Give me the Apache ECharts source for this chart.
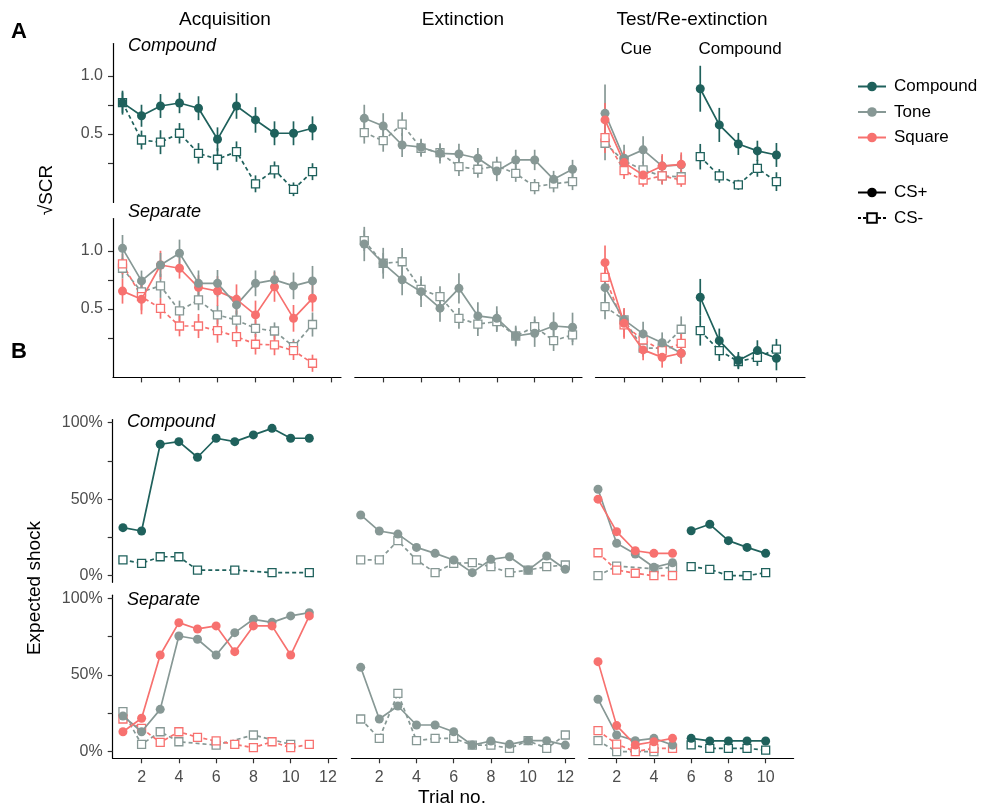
<!DOCTYPE html>
<html>
<head>
<meta charset="utf-8">
<script src="https://cdn.jsdelivr.net/npm/echarts@6/dist/echarts.min.js"></script>
<style>html,body{margin:0;padding:0;background:#fff}#c{width:997px;height:812px}</style>
</head>
<body>
<div id="c"></div>
<script>
// ---------------- DATA ----------------
const acqTrials = [1,2,3,4,5,6,7,8,9,10,11];
const extTrials = [1,2,3,4,5,6,7,8,9,10,11,12];
const cueTrials = [1,2,3,4,5];
const cmpTrials = [6,7,8,9,10];
const xTicks12 = [2,4,6,8,10,12];
const xTicks10 = [2,4,6,8,10];
const scrTicks = [0.25,0.5,0.75,1.0];
const scrLabels = [0.5,1.0];
const pctTicks = [0,0.25,0.5,0.75,1.0];
const pctLabels = [0,0.5,1.0];

// ----- A: sqrt SCR, Compound group -----
const aAcqCmpCSp   = [0.770,0.657,0.741,0.767,0.722,0.454,0.741,0.621,0.506,0.506,0.549];
const aAcqCmpCSpSE = [0.103,0.095,0.103,0.088,0.103,0.103,0.110,0.110,0.103,0.103,0.103];
const aAcqCmpCSm   = [0.770,0.448,0.429,0.506,0.333,0.282,0.348,0.070,0.190,0.023,0.175];
const aAcqCmpCSmSE = [0.088,0.081,0.103,0.088,0.088,0.095,0.088,0.073,0.073,0.059,0.073];
const aExtCmpCSp   = [0.635,0.569,0.405,0.386,0.333,0.327,0.291,0.181,0.276,0.276,0.109,0.196];
const aExtCmpCSpSE = [0.117,0.110,0.103,0.073,0.088,0.088,0.088,0.088,0.088,0.088,0.073,0.081];
const aExtCmpCSm   = [0.512,0.442,0.585,0.377,0.339,0.218,0.196,0.223,0.160,0.046,0.070,0.089];
const aExtCmpCSmSE = [0.095,0.095,0.103,0.073,0.073,0.081,0.073,0.081,0.073,0.066,0.073,0.073];
const aTestCmpToneCSp     = [0.678,0.291,0.363,0.223,0.234];
const aTestCmpToneCSpSE   = [0.249,0.117,0.117,0.088,0.088];
const aTestCmpSquareCSp   = [0.621,0.253,0.146,0.223,0.238];
const aTestCmpSquareCSpSE = [0.147,0.103,0.073,0.103,0.103];
const aTestCmpToneCSm     = [0.420,0.267,0.190,0.138,0.131];
const aTestCmpToneCSmSE   = [0.147,0.073,0.073,0.073,0.059];
const aTestCmpSquareCSm   = [0.468,0.184,0.103,0.138,0.103];
const aTestCmpSquareCSmSE = [0.132,0.073,0.059,0.073,0.059];
const aTestCmpCmpCSp   = [0.890,0.578,0.414,0.354,0.319];
const aTestCmpCmpCSpSE = [0.198,0.147,0.095,0.088,0.103];
const aTestCmpCmpCSm   = [0.304,0.138,0.061,0.204,0.089];
const aTestCmpCmpCSmSE = [0.110,0.059,0.044,0.073,0.081];

// ----- A: sqrt SCR, Separate group -----
const aAcqSepToneCSp     = [1.023,0.742,0.879,0.980,0.721,0.721,0.535,0.721,0.751,0.699,0.742];
const aAcqSepToneCSpSE   = [0.115,0.089,0.104,0.118,0.111,0.115,0.089,0.111,0.081,0.115,0.129];
const aAcqSepSquareCSp   = [0.654,0.583,0.879,0.851,0.687,0.654,0.583,0.449,0.691,0.419,0.592];
const aAcqSepSquareCSpSE = [0.108,0.129,0.123,0.089,0.104,0.129,0.129,0.123,0.129,0.115,0.115];
const aAcqSepToneCSm     = [0.851,0.647,0.699,0.483,0.578,0.449,0.404,0.333,0.310,0.175,0.366];
const aAcqSepToneCSmSE   = [0.089,0.089,0.104,0.089,0.089,0.081,0.081,0.074,0.074,0.067,0.104];
const aAcqSepSquareCSm   = [0.888,0.606,0.505,0.353,0.353,0.313,0.262,0.196,0.190,0.141,0.032];
const aAcqSepSquareCSmSE = [0.089,0.118,0.089,0.089,0.104,0.104,0.089,0.089,0.089,0.081,0.074];
const aExtSepCSp   = [1.060,0.894,0.751,0.649,0.507,0.678,0.440,0.419,0.267,0.291,0.353,0.342];
const aExtSepCSpSE = [0.148,0.133,0.133,0.133,0.118,0.130,0.118,0.104,0.089,0.118,0.118,0.126];
const aExtSepCSm   = [1.089,0.894,0.907,0.669,0.606,0.419,0.370,0.391,0.267,0.347,0.227,0.276];
const aExtSepCSmSE = [0.089,0.089,0.118,0.089,0.089,0.089,0.104,0.089,0.074,0.089,0.089,0.089];
const aTestSepToneCSp     = [0.684,0.406,0.285,0.209,0.118];
const aTestSepToneCSpSE   = [0.118,0.089,0.104,0.089,0.089];
const aTestSepSquareCSp   = [0.899,0.376,0.147,0.083,0.118];
const aTestSepSquareCSpSE = [0.148,0.133,0.089,0.089,0.089];
const aTestSepToneCSm     = [0.520,0.406,0.162,0.162,0.325];
const aTestSepToneCSmSE   = [0.108,0.089,0.074,0.089,0.111];
const aTestSepSquareCSm   = [0.773,0.362,0.233,0.141,0.203];
const aTestSepSquareCSmSE = [0.104,0.104,0.089,0.089,0.089];
const aTestSepCmpCSp   = [0.601,0.227,0.055,0.141,0.075];
const aTestSepCmpCSpSE = [0.158,0.104,0.074,0.089,0.104];
const aTestSepCmpCSm   = [0.313,0.141,0.047,0.083,0.153];
const aTestSepCmpCSmSE = [0.129,0.089,0.059,0.074,0.089];

// ----- B: expected shock, Compound group -----
const bAcqCmpCSp = [0.314,0.292,0.859,0.876,0.774,0.898,0.876,0.920,0.963,0.898,0.898];
const bAcqCmpCSm = [0.103,0.081,0.124,0.124,0.037,null,0.037,null,0.020,null,0.020];
const bExtCmpCSp = [0.397,0.292,0.272,0.185,0.146,0.103,0.020,0.107,0.124,0.037,0.129,0.042];
const bExtCmpCSm = [0.103,0.103,0.229,0.103,0.020,0.081,0.085,0.059,0.020,0.037,0.059,0.070];
const bTestCmpToneCSp   = [0.565,0.212,0.142,0.055,0.085];
const bTestCmpSquareCSp = [0.500,0.288,0.163,0.146,0.146];
const bTestCmpToneCSm   = [0.000,0.063,null,0.045,0.055];
const bTestCmpSquareCSm = [0.150,0.037,0.016,0.000,0.000];
const bTestCmpCmpCSp = [0.294,0.336,0.229,0.185,0.146];
const bTestCmpCmpCSm = [0.059,0.042,0.000,0.000,0.020];

// ----- B: expected shock, Separate group -----
const bAcqSepToneCSp   = [0.233,0.130,0.276,0.754,0.733,0.630,0.776,0.863,0.843,0.885,0.906];
const bAcqSepSquareCSp = [0.130,0.218,0.630,0.841,0.800,0.820,0.652,0.820,0.820,0.630,0.885];
const bAcqSepToneCSm   = [0.261,0.048,0.130,0.065,null,0.043,null,0.109,null,0.048,null];
const bAcqSepSquareCSm = [0.213,0.152,0.061,0.130,0.094,0.070,0.048,0.026,0.065,0.026,0.048];
const bExtSepCSp = [0.550,0.213,0.298,0.174,0.174,0.130,0.043,0.070,0.048,0.072,0.072,0.043];
const bExtSepCSm = [0.213,0.087,0.380,0.072,0.087,0.087,0.043,0.043,0.022,0.072,0.022,0.109];
const bTestSepToneCSp   = [0.342,0.109,0.072,0.087,0.044];
const bTestSepSquareCSp = [0.587,0.170,0.044,0.065,0.087];
const bTestSepToneCSm   = [0.072,0.000,null,0.000,null];
const bTestSepSquareCSm = [0.137,0.050,0.000,0.022,0.022];
const bTestSepCmpCSp = [0.087,0.070,0.070,0.070,0.070];
const bTestSepCmpCSm = [0.044,0.022,0.022,0.022,0.010];

// ---------------- STYLE / LAYOUT ----------------
const C_CMP = '#1f615c', C_TONE = '#879895', C_SQ = '#f7716f';
const FONT = '"Liberation Sans", Arial, Helvetica, sans-serif';
const colA = [[113,341,0.5,12.5],[354.8,582,0.5,12.5],[595.5,805,0.5,11.5]];
const colB = [[112.7,336.7,0.45,12.47],[351.4,574.6,0.5,12.5],[588.7,793.6,0.5,11.5]];
const rowBox = [[43.5,202.4],[218.5,377.4],[419.6,582.3],[595.2,758.3]];
const yRangeA = [-0.09,1.28], yRangeB = [-0.043,1.02];

const grids = [], xAxes = [], yAxes = [];
for (let r = 0; r < 4; r++) {
  for (let c = 0; c < 3; c++) {
    const col = r < 2 ? colA[c] : colB[c];
    const gi = r*3 + c;
    grids.push({left: col[0], top: rowBox[r][0], width: col[1]-col[0], height: rowBox[r][1]-rowBox[r][0]});
    const showX = (r === 1 || r === 3);
    const ticks = c === 2 ? xTicks10 : xTicks12;
    xAxes.push({
      type: 'value', gridIndex: gi, min: col[2], max: col[3], position: 'bottom',
      show: showX,
      axisLine: {show: showX, onZero: false, lineStyle: {color: '#000', width: 1.2}},
      axisTick: {show: showX, length: 5, lineStyle: {color: '#333', width: 1.2}, customValues: ticks},
      axisLabel: {show: r === 3, customValues: ticks, color: '#4d4d4d', fontSize: 16, fontFamily: FONT, margin: 11},
      splitLine: {show: false}
    });
    const isA = r < 2;
    const showY = c === 0;
    yAxes.push({
      type: 'value', gridIndex: gi, position: 'left',
      min: isA ? yRangeA[0] : yRangeB[0], max: isA ? yRangeA[1] : yRangeB[1],
      show: showY,
      axisLine: {show: showY, onZero: false, lineStyle: {color: '#000', width: 1.2}},
      axisTick: {show: showY, length: 5, lineStyle: {color: '#333', width: 1.2}, customValues: isA ? scrTicks : pctTicks},
      axisLabel: {show: showY, customValues: isA ? scrLabels : pctLabels, color: '#4d4d4d', fontSize: 16, fontFamily: FONT, margin: 10,
        formatter: isA ? (v => Number(v).toFixed(1)) : (v => Math.round(v*100) + '%')},
      splitLine: {show: false}
    });
  }
}

const series = [];
function pairs(xs, ys) { return xs.map((x,i) => [x, ys[i]]).filter(d => d[1] !== null && d[1] !== undefined); }
function addLine(gi, xs, ys, color, plus) {
  series.push({
    type: 'line', xAxisIndex: gi, yAxisIndex: gi, data: pairs(xs, ys),
    symbol: plus ? 'circle' : 'rect', symbolSize: plus ? 9 : 8,
    lineStyle: {color: color, width: 1.7, type: plus ? 'solid' : [4,3]},
    itemStyle: plus ? {color: color} : {color: '#fff', borderColor: color, borderWidth: 1.3},
    z: plus ? 4 : 3, animation: false, silent: true
  });
}
function addErr(gi, xs, ys, se, color) {
  const d = xs.map((x,i) => [x, ys[i]-se[i], ys[i]+se[i]]);
  series.push({
    type: 'custom', xAxisIndex: gi, yAxisIndex: gi, data: d, z: 2, animation: false, silent: true,
    encode: {x: 0, y: [1,2]},
    renderItem: function(params, api) {
      const x = api.value(0);
      const p1 = api.coord([x, api.value(1)]), p2 = api.coord([x, api.value(2)]);
      return {type: 'line', shape: {x1: p1[0], y1: p1[1], x2: p2[0], y2: p2[1]}, style: {stroke: color, lineWidth: 1.7}};
    }
  });
}
function addSE(gi, xs, ys, se, color, plus) { addErr(gi, xs, ys, se, color); addLine(gi, xs, ys, color, plus); }

// A compound row (grids 0,1,2)
addSE(0, acqTrials, aAcqCmpCSm, aAcqCmpCSmSE, C_CMP, false);
addSE(0, acqTrials, aAcqCmpCSp, aAcqCmpCSpSE, C_CMP, true);
addSE(1, extTrials, aExtCmpCSm, aExtCmpCSmSE, C_TONE, false);
addSE(1, extTrials, aExtCmpCSp, aExtCmpCSpSE, C_TONE, true);
addSE(2, cueTrials, aTestCmpToneCSm, aTestCmpToneCSmSE, C_TONE, false);
addSE(2, cueTrials, aTestCmpSquareCSm, aTestCmpSquareCSmSE, C_SQ, false);
addSE(2, cueTrials, aTestCmpToneCSp, aTestCmpToneCSpSE, C_TONE, true);
addSE(2, cueTrials, aTestCmpSquareCSp, aTestCmpSquareCSpSE, C_SQ, true);
addSE(2, cmpTrials, aTestCmpCmpCSm, aTestCmpCmpCSmSE, C_CMP, false);
addSE(2, cmpTrials, aTestCmpCmpCSp, aTestCmpCmpCSpSE, C_CMP, true);
// A separate row (grids 3,4,5)
addSE(3, acqTrials, aAcqSepToneCSm, aAcqSepToneCSmSE, C_TONE, false);
addSE(3, acqTrials, aAcqSepSquareCSm, aAcqSepSquareCSmSE, C_SQ, false);
addSE(3, acqTrials, aAcqSepSquareCSp, aAcqSepSquareCSpSE, C_SQ, true);
addSE(3, acqTrials, aAcqSepToneCSp, aAcqSepToneCSpSE, C_TONE, true);
addSE(4, extTrials, aExtSepCSm, aExtSepCSmSE, C_TONE, false);
addSE(4, extTrials, aExtSepCSp, aExtSepCSpSE, C_TONE, true);
addSE(5, cueTrials, aTestSepToneCSm, aTestSepToneCSmSE, C_TONE, false);
addSE(5, cueTrials, aTestSepSquareCSm, aTestSepSquareCSmSE, C_SQ, false);
addSE(5, cueTrials, aTestSepToneCSp, aTestSepToneCSpSE, C_TONE, true);
addSE(5, cueTrials, aTestSepSquareCSp, aTestSepSquareCSpSE, C_SQ, true);
addSE(5, cmpTrials, aTestSepCmpCSm, aTestSepCmpCSmSE, C_CMP, false);
addSE(5, cmpTrials, aTestSepCmpCSp, aTestSepCmpCSpSE, C_CMP, true);
// B compound row (grids 6,7,8)
addLine(6, acqTrials, bAcqCmpCSm, C_CMP, false);
addLine(6, acqTrials, bAcqCmpCSp, C_CMP, true);
addLine(7, extTrials, bExtCmpCSm, C_TONE, false);
addLine(7, extTrials, bExtCmpCSp, C_TONE, true);
addLine(8, cueTrials, bTestCmpToneCSm, C_TONE, false);
addLine(8, cueTrials, bTestCmpSquareCSm, C_SQ, false);
addLine(8, cueTrials, bTestCmpToneCSp, C_TONE, true);
addLine(8, cueTrials, bTestCmpSquareCSp, C_SQ, true);
addLine(8, cmpTrials, bTestCmpCmpCSm, C_CMP, false);
addLine(8, cmpTrials, bTestCmpCmpCSp, C_CMP, true);
// B separate row (grids 9,10,11)
addLine(9, acqTrials, bAcqSepToneCSm, C_TONE, false);
addLine(9, acqTrials, bAcqSepSquareCSm, C_SQ, false);
addLine(9, acqTrials, bAcqSepToneCSp, C_TONE, true);
addLine(9, acqTrials, bAcqSepSquareCSp, C_SQ, true);
addLine(10, extTrials, bExtSepCSm, C_TONE, false);
addLine(10, extTrials, bExtSepCSp, C_TONE, true);
addLine(11, cueTrials, bTestSepToneCSm, C_TONE, false);
addLine(11, cueTrials, bTestSepSquareCSm, C_SQ, false);
addLine(11, cueTrials, bTestSepToneCSp, C_TONE, true);
addLine(11, cueTrials, bTestSepSquareCSp, C_SQ, true);
addLine(11, cmpTrials, bTestSepCmpCSm, C_CMP, false);
addLine(11, cmpTrials, bTestSepCmpCSp, C_CMP, true);

// legend-only series
function legendSeries(name, color, plus) {
  series.push({
    name: name, type: 'line', xAxisIndex: 0, yAxisIndex: 0, data: [],
    symbol: plus ? 'circle' : 'rect', symbolSize: plus ? 9 : 8,
    lineStyle: {color: color, width: 1.7, type: plus ? 'solid' : [3,2]},
    itemStyle: plus ? {color: color} : {color: '#fff', borderColor: color, borderWidth: 1.3}
  });
}
legendSeries('Compound', C_CMP, true);
legendSeries('Tone', C_TONE, true);
legendSeries('Square', C_SQ, true);
legendSeries('CS+', '#000', true);
legendSeries('CS-', '#000', false);

function txt(text, x, y, opts) {
  opts = opts || {};
  return {
    type: 'text', x: x, y: y, rotation: opts.rot || 0, silent: true,
    style: {
      text: text, fill: opts.color || '#000',
      font: (opts.style || '') + ' ' + (opts.weight || '') + ' ' + (opts.size || 19) + 'px ' + FONT,
      align: opts.align || 'left', verticalAlign: 'middle',
      textAlign: opts.align || 'left', textVerticalAlign: 'middle'
    }
  };
}

const graphics = [
  txt('A', 11, 32, {weight: 'bold', size: 22}),
  txt('B', 11, 352, {weight: 'bold', size: 22}),
  txt('Acquisition', 225, 20, {align: 'center'}),
  txt('Extinction', 463, 20, {align: 'center'}),
  txt('Test/Re-extinction', 692, 20, {align: 'center'}),
  txt('Cue', 636, 49, {align: 'center', size: 17}),
  txt('Compound', 740, 49, {align: 'center', size: 17}),
  txt('Compound', 128, 46, {style: 'italic', size: 18}),
  txt('Separate', 128, 212, {style: 'italic', size: 18}),
  txt('Compound', 127, 422, {style: 'italic', size: 18}),
  txt('Separate', 127, 600, {style: 'italic', size: 18}),
  txt('\u221ASCR', 47, 190, {align: 'center', rot: Math.PI/2, size: 19}),
  txt('Expected shock', 35, 588, {align: 'center', rot: Math.PI/2, size: 19}),
  txt('Trial no.', 452, 798, {align: 'center', size: 19})
];

const chart = echarts.init(document.getElementById('c'), null, {renderer: 'canvas'});
chart.setOption({
  animation: false,
  backgroundColor: '#fff',
  grid: grids, xAxis: xAxes, yAxis: yAxes, series: series,
  legend: [
    {data: ['Compound','Tone','Square'], orient: 'vertical', left: 852, top: 73, itemWidth: 28, itemHeight: 12, itemGap: 8.5,
     selectedMode: false, textStyle: {fontSize: 17, fontFamily: FONT, color: '#000', padding: [0,0,0,3]}},
    {data: ['CS+','CS-'], orient: 'vertical', left: 852, top: 179, itemWidth: 28, itemHeight: 12, itemGap: 8.5,
     selectedMode: false, textStyle: {fontSize: 17, fontFamily: FONT, color: '#000', padding: [0,0,0,3]}}
  ],
  graphic: graphics
});
</script>
</body>
</html>
